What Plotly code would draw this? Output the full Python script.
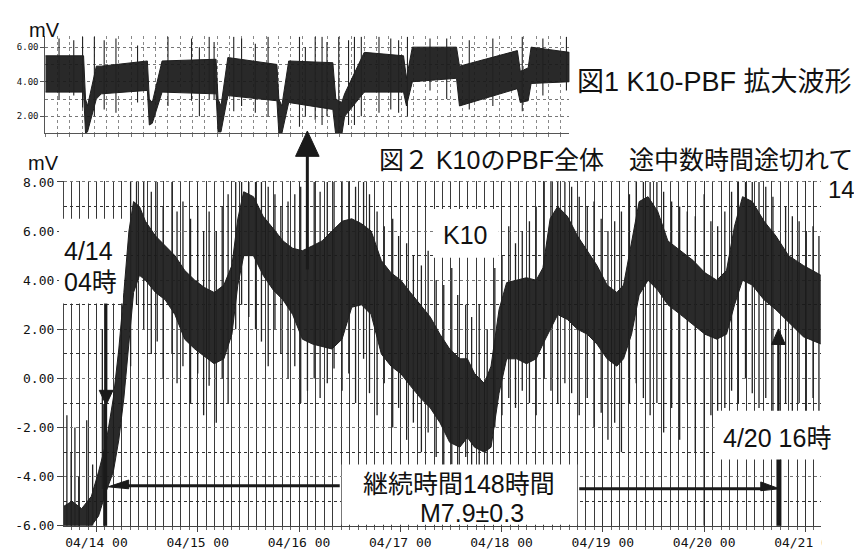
import pandas as pd
import plotly.graph_objects as go

# ---------------- data ----------------
BASE = pd.Timestamp("2016-04-14 00:00")

# main chart (図2): dark band envelope, hours from 04/14 00
BAND_HOURS = [-7.7, -5.8, -3.5, -1.2, 0.5, 2.3, 4.0, 5.3, 6.5, 7.7, 8.8, 10.2, 11.6, 14.0, 16.3,
              18.6, 20.9, 23.3, 25.6, 27.9, 30.2, 32.1, 33.5, 34.9, 37.2, 39.5, 41.9, 44.2, 46.5,
              48.8, 51.2, 53.5, 55.8, 58.2, 60.5, 62.8, 65.1, 67.5, 69.8, 72.1, 74.4, 76.8, 79.1,
              81.4, 83.7, 86.1, 87.9, 89.6, 91.9, 93.5, 95.4, 97.2, 99.6, 101.9, 104.2, 105.8,
              107.5, 109.3, 111.6, 114.0, 116.3, 118.6, 121.0, 123.3, 124.9, 126.8, 128.6, 130.7,
              133.0, 135.4, 138.4, 141.4, 144.2, 147.0, 149.3, 151.2, 153.1, 155.4, 158.2, 161.0,
              164.0, 167.5, 171.7]
BAND_UPPER = [-5.2, -5.0, -5.3, -4.8, -3.8, -2.6, -0.8, 1.2, 3.5, 6.0, 7.2, 7.0, 6.4, 5.8, 5.4,
              5.0, 4.4, 4.0, 3.7, 3.5, 3.8, 4.6, 6.5, 7.6, 7.4, 6.6, 6.1, 5.6, 5.3,
              5.2, 5.4, 5.6, 6.0, 6.4, 6.5, 6.3, 6.0, 4.8, 4.3, 4.0, 3.5, 3.0, 2.5,
              1.8, 1.2, 0.8, 0.8, 0.2, -0.2, 0.5, 2.8, 3.9, 4.0, 4.1, 4.0, 4.5,
              6.5, 7.0, 6.6, 5.8, 5.2, 4.6, 3.8, 3.5, 3.8, 5.5, 7.2, 7.4,
              6.8, 5.6, 5.2, 4.8, 4.3, 4.0, 4.4, 6.2, 7.4, 7.2, 6.4, 5.8,
              5.0, 4.6, 4.2]
BAND_LOWER = [-6.0, -6.0, -6.0, -6.0, -5.6, -4.6, -3.8, -2.5, -0.8, 1.5, 3.5, 4.2, 4.0, 3.5, 3.2,
              2.6, 1.6, 1.2, 0.9, 0.6, 0.8, 1.8, 3.8, 5.0, 5.0, 4.2, 3.6, 3.2, 2.6,
              1.6, 1.4, 1.3, 1.2, 1.6, 2.9, 3.0, 2.6, 1.0, 0.5, 0.2, -0.3, -0.8, -1.2,
              -1.8, -2.6, -2.8, -2.4, -2.8, -3.0, -2.8, -0.6, 0.8, 0.8, 0.6, 0.8, 1.4,
              2.0, 2.6, 2.4, 2.0, 1.8, 1.4, 0.8, 0.5, 0.8, 1.8, 3.4, 4.0,
              3.6, 3.0, 2.6, 2.2, 1.8, 1.6, 1.8, 3.0, 4.0, 3.8, 3.2, 2.8,
              2.3, 1.7, 1.4]

# transient spikes of the main chart
SPIKE_HOURS = [-7.0, -6.0, -5.1, -4.2, -2.3, -0.9, 1.4, 8.1, 9.5, 11.2, 13.0, 14.4, 15.8, 17.9,
               19.1, 20.5, 22.3, 24.0, 25.4, 26.7, 28.4, 29.8, 31.2, 33.0, 34.4, 36.1, 37.7,
               39.1, 40.7, 42.3, 43.7, 45.4, 47.0, 48.4, 50.0, 51.6, 53.0, 54.7, 56.3, 58.2,
               59.8, 61.4, 63.3, 64.7, 66.5, 68.2, 70.2, 71.6, 73.5, 75.1, 77.0, 78.6, 80.5,
               82.3, 84.2, 85.6, 87.5, 88.9, 90.7, 92.6, 94.4, 96.1, 97.7, 99.3, 100.9, 102.6,
               104.2, 106.1, 107.7, 109.3, 111.0, 112.6, 114.4, 116.3, 117.9, 119.6, 121.2,
               122.8, 124.4, 126.3, 127.9, 129.6, 131.2, 132.8, 134.4, 136.3, 138.2, 140.0,
               141.9, 144.0, 145.6, 147.2, 148.9, 150.5, 152.1, 153.8, 155.4, 157.0, 158.6,
               160.3, 163.3, 164.9, 166.5, 168.2, 169.8, 171.2]
SPIKE_LOW = [-6.0, -6.0, -6.0, -6.0, -6.0, -6.0, -4.5, 0.5, 3.0, 2.0, 1.0, 1.5, 0.0, 1.0,
             -0.2, 0.5, -1.0, 0.2, -1.5, -0.3, -1.8, 0.0, -1.0, 2.0, 3.0, 2.5, 2.0,
             1.5, 0.5, 2.0, 1.0, 0.0, 0.5, -1.0, -0.5, 0.0, -0.8, -0.2, 0.4, -0.5,
             0.2, -1.0, 0.8, -0.6, -1.5, -0.2, -2.0, -1.2, -2.5, -1.8, -3.0, -2.2, -3.2,
             -3.6, -3.5, -4.0, -3.2, -3.8, -3.6, -4.2, -2.0, -1.5, -0.8, -1.2, -0.5, -1.0,
             -1.5, 0.0, -0.5, -1.0, -0.2, -0.6, -1.5, -0.8, -2.0, -1.4, -2.5,
             -1.8, -3.0, -1.0, -0.2, -0.8, -1.5, -1.0, -2.2, -1.2, -2.5, -1.0,
             -3.0, -6.0, -1.5, -2.6, -1.2, -0.5, -1.0, 0.0, -0.6, -1.2, -0.8,
             -1.6, -1.0, -2.0, -1.0, -1.8, -0.8, -1.5]
SPIKE_HIGH = [-1.5, -3.0, -2.0, -4.0, -1.7, -3.5, 2.0, 8.0, 8.0, 8.0, 7.6, 8.0, 7.0, 8.0,
              6.8, 7.2, 6.5, 7.0, 6.0, 6.8, 6.0, 7.0, 7.5, 8.0, 8.0, 8.0, 8.0,
              8.0, 7.8, 7.5, 7.0, 7.2, 7.5, 7.8, 8.0, 8.0, 7.6, 8.0, 8.0, 8.0,
              8.0, 7.8, 8.0, 7.5, 6.8, 6.2, 6.5, 5.8, 5.5, 5.0, 4.6, 5.2, 4.0,
              3.8, 4.5, 3.4, 3.0, 2.5, 3.0, 2.0, 4.5, 5.0, 6.2, 5.5, 6.0, 6.4,
              7.0, 8.0, 8.0, 8.0, 8.0, 7.8, 7.4, 7.0, 7.2, 6.5, 6.0,
              6.4, 6.8, 7.5, 8.0, 8.0, 8.0, 8.0, 7.6, 7.2, 7.0, 6.8,
              6.6, 7.5, 6.4, 6.2, 6.8, 7.6, 8.0, 8.0, 8.0, 8.0, 7.8,
              7.4, 7.0, 6.6, 6.4, 6.0, 6.2, 5.8]

# enlarged waveform (図1): envelope, arbitrary time units
ZOOM_T = [0.0, 3.9, 4.1, 4.3, 5.2, 5.7, 10.4, 10.6, 10.9, 11.9, 17.4, 17.6, 17.9, 18.6, 23.6,
          23.8, 24.1, 24.8, 29.3, 29.6, 30.2, 30.5, 32.5, 36.5, 36.8, 37.4, 41.9, 42.2, 48.1,
          48.4, 49.2, 49.5, 53.4]
ZOOM_UPPER = [5.5, 5.5, 3.0, 2.6, 4.9, 4.9, 5.2, 3.0, 2.8, 5.2, 5.3, 3.0, 2.6, 5.4, 5.0,
              3.0, 2.6, 5.2, 5.1, 3.0, 2.8, 3.3, 5.7, 5.5, 4.2, 6.0, 6.0, 4.9, 5.8,
              4.6, 4.8, 6.0, 5.7]
ZOOM_LOWER = [3.4, 3.4, 1.0, 1.1, 3.0, 3.3, 3.5, 1.5, 1.6, 3.4, 3.3, 1.1, 1.1, 3.2, 2.9,
              1.0, 1.0, 2.8, 2.4, 0.9, 0.9, 2.0, 3.4, 3.4, 2.6, 4.0, 4.2, 2.6, 3.6,
              2.8, 2.9, 3.9, 4.0]
ZOOM_SPIKE_T = [1.4, 2.9, 3.8, 5.0, 6.0, 7.2, 9.4, 12.5, 14.9, 15.7, 16.7, 17.2, 19.2, 20.0,
                21.4, 22.7, 25.9, 26.5, 27.5, 28.2, 28.7, 29.9, 30.9, 31.5, 32.2, 34.0, 35.2,
                36.0, 36.9, 39.2, 40.9, 43.2, 45.6, 48.6, 50.7, 53.1]
ZOOM_SPIKE_LOW = [3.0, 3.2, 2.5, 2.0, 2.4, 2.2, 2.8, 2.6, 2.9, 2.0, 3.0, 3.0, 2.3, 2.6,
                  2.2, 2.0, 1.4, 2.0, 1.8, 1.5, 2.0, 1.0, 1.5, 1.5, 2.0, 2.2, 2.4,
                  2.2, 2.0, 3.5, 3.0, 2.4, 2.6, 2.3, 3.2, 3.5]
ZOOM_SPIKE_HIGH = [6.5, 6.4, 6.6, 6.6, 6.4, 6.5, 6.1, 6.6, 6.5, 6.0, 6.6, 6.3, 6.6, 6.5,
                   6.2, 6.6, 6.6, 6.0, 6.6, 6.6, 6.3, 6.6, 6.4, 6.6, 6.6, 6.6, 6.5,
                   6.4, 6.6, 6.5, 6.5, 6.4, 6.5, 6.6, 6.5, 6.6]

MAIN_YTICKS = [-6, -4, -2, 0, 2, 4, 6, 8]
MAIN_YTEXT = ["-6.00", "-4.00", "-2.00", "0.00", "2.00", "4.00", "6.00", "8.00"]
ZOOM_YTICKS = [2, 4, 6]
ZOOM_YTEXT = ["2.00", "4.00", "6.00"]

# ---------------- helpers ----------------
W, H = 862, 558


def px(x):
    return x / W


def py(y):
    return 1 - y / H


def to_time(hours):
    return [BASE + pd.Timedelta(hours=h) for h in hours]


def spikes(xs, lows, highs):
    sx, sy = [], []
    for x, lo, hi in zip(xs, lows, highs):
        sx += [x, x, None]
        sy += [lo, hi, None]
    return sx, sy


band_t = to_time(BAND_HOURS)
spk_t = to_time(SPIKE_HOURS)

fig = go.Figure()

# main band
fig.add_trace(go.Scatter(
    x=band_t + band_t[::-1], y=BAND_UPPER + BAND_LOWER[::-1],
    fill="toself", fillcolor="rgba(26,26,26,0.93)", mode="lines",
    line=dict(color="#1e1e1e", width=1), xaxis="x", yaxis="y", hoverinfo="skip"))
sx, sy = spikes(spk_t, SPIKE_LOW, SPIKE_HIGH)
fig.add_trace(go.Scatter(x=sx, y=sy, mode="lines", line=dict(color="#222", width=1.3),
                         xaxis="x", yaxis="y", hoverinfo="skip"))

# zoom band
fig.add_trace(go.Scatter(
    x=ZOOM_T + ZOOM_T[::-1], y=ZOOM_UPPER + ZOOM_LOWER[::-1],
    fill="toself", fillcolor="rgba(25,25,25,0.93)", mode="lines",
    line=dict(color="#1e1e1e", width=1), xaxis="x2", yaxis="y2", hoverinfo="skip"))
zx, zy = spikes(ZOOM_SPIKE_T, ZOOM_SPIKE_LOW, ZOOM_SPIKE_HIGH)
fig.add_trace(go.Scatter(x=zx, y=zy, mode="lines", line=dict(color="#222", width=1.1),
                         xaxis="x2", yaxis="y2", hoverinfo="skip"))

MONO = "DejaVu Sans Mono"
SANS = "Liberation Sans, Noto Sans CJK JP, sans-serif"

fig.update_layout(
    width=W, height=H, autosize=False, showlegend=False,
    margin=dict(l=0, r=0, t=0, b=0),
    paper_bgcolor="white", plot_bgcolor="white",
    xaxis=dict(
        type="date", domain=[px(57), px(828)], anchor="y",
        range=[BASE + pd.Timedelta(hours=-7.7), BASE + pd.Timedelta(hours=171.6)],
        tick0=BASE, dtick=86400000, tickformat="%m/%d %H",
        ticks="outside", ticklen=5, tickcolor="#444",
        tickfont=dict(family=MONO, size=13, color="#111"),
        showgrid=True, gridcolor="#333", gridwidth=1,
        minor=dict(dtick=7200000, tick0=BASE, showgrid=True, gridcolor="#3a3a3a",
                   gridwidth=1, ticks="outside", ticklen=3, tickcolor="#666"),
        showline=True, linecolor="#444", linewidth=1, zeroline=False),
    yaxis=dict(
        domain=[py(525), py(171)], anchor="x", range=[-6, 8.05],
        tickmode="array", tickvals=MAIN_YTICKS, ticktext=MAIN_YTEXT,
        ticks="outside", ticklen=6, tickcolor="#444",
        tickfont=dict(family=MONO, size=13, color="#111"),
        showgrid=True, gridcolor="#777", griddash="dot", gridwidth=1,
        minor=dict(tickmode="array", tickvals=[-5, -3, -1, 1, 3, 5, 7], showgrid=True,
                   gridcolor="#333", gridwidth=1),
        showline=True, linecolor="#444", linewidth=1, zeroline=False),
    xaxis2=dict(
        domain=[px(38), px(572)], anchor="y2", range=[0, 53.4],
        showticklabels=False, ticks="outside", ticklen=3, dtick=1.25, tickcolor="#777",
        showgrid=True, gridcolor="#888", griddash="dot", gridwidth=1,
        showline=True, linecolor="#555", zeroline=False),
    yaxis2=dict(
        domain=[py(122), py(23)], anchor="x2", range=[1.04, 6.62],
        tickmode="array", tickvals=ZOOM_YTICKS, ticktext=ZOOM_YTEXT,
        ticks="outside", ticklen=4, tickcolor="#555",
        tickfont=dict(family=MONO, size=9, color="#111"),
        showgrid=True, gridcolor="#777", griddash="dot",
        minor=dict(tickmode="array", tickvals=[3, 5], showgrid=True, gridcolor="#777",
                   griddash="dot"),
        showline=True, linecolor="#555", zeroline=False),
)

shapes = []


def rect(x0, y0, x1, y1):
    shapes.append(dict(type="rect", xref="paper", yref="paper", x0=px(x0), x1=px(x1),
                       y0=py(y1), y1=py(y0), fillcolor="white", line=dict(width=0),
                       layer="above"))


def seg(x0, y0, x1, y1, w):
    shapes.append(dict(type="line", xref="paper", yref="paper", x0=px(x0), y0=py(y0),
                       x1=px(x1), y1=py(y1), line=dict(color="#1a1a1a", width=w),
                       layer="above"))


def tri(pts):
    path = "M " + " L ".join(f"{px(a)},{py(b)}" for a, b in pts) + " Z"
    shapes.append(dict(type="path", xref="paper", yref="paper", path=path,
                       fillcolor="#1a1a1a", line=dict(color="#1a1a1a", width=1),
                       layer="above"))


# white label boxes
rect(52, 210, 117, 297)
rect(433, 200, 500, 250)
rect(720, 407, 850, 457)
rect(340, 462, 580, 524)
rect(829, 530, 862, 558)   # cut-off of last date label

# arrows and markers
seg(305, 262, 305, 140, 3)
tri([(305, 120), (293, 146), (317, 146)])
seg(100, 297, 100, 390, 2.5)
tri([(100, 401), (93, 386), (107, 386)])
seg(99, 400, 99, 525, 4)
seg(118, 484, 338, 484, 3)
tri([(102, 485), (123, 478), (123, 487)])
seg(582, 487, 770, 487, 3)
tri([(786, 487), (767, 480), (767, 489)])
seg(785.5, 457, 785.5, 525, 5)
seg(785, 407, 785, 336, 2.5)
tri([(785, 323), (778, 339), (792, 339)])

fig.update_layout(shapes=shapes)

ann = []


def text(t, x, y, size, anchor="center"):
    ann.append(dict(text=t, xref="paper", yref="paper", x=px(x), y=py(y), showarrow=False,
                    xanchor=anchor, yanchor="middle", font=dict(family=SANS, size=size,
                                                                 color="#111")))


text("mV", 37, 16, 20)
text("mV", 36, 153, 20)
text("図1 K10-PBF 拡大波形", 578, 70, 27, "left")
text("図２ K10のPBF全体　途中数時間途切れて", 376, 150, 25, "left")
text("14", 833, 180, 24, "left")
text("4/14", 82, 243, 25)
text("04時", 84, 275, 25)
text("K10", 466, 227, 25)
text("4/20 16時", 784, 435, 25)
text("継続時間148時間", 460, 482, 25)
text("M7.9±0.3", 473, 512, 25)

fig.update_layout(annotations=ann)

fig.write_html("out.html")
